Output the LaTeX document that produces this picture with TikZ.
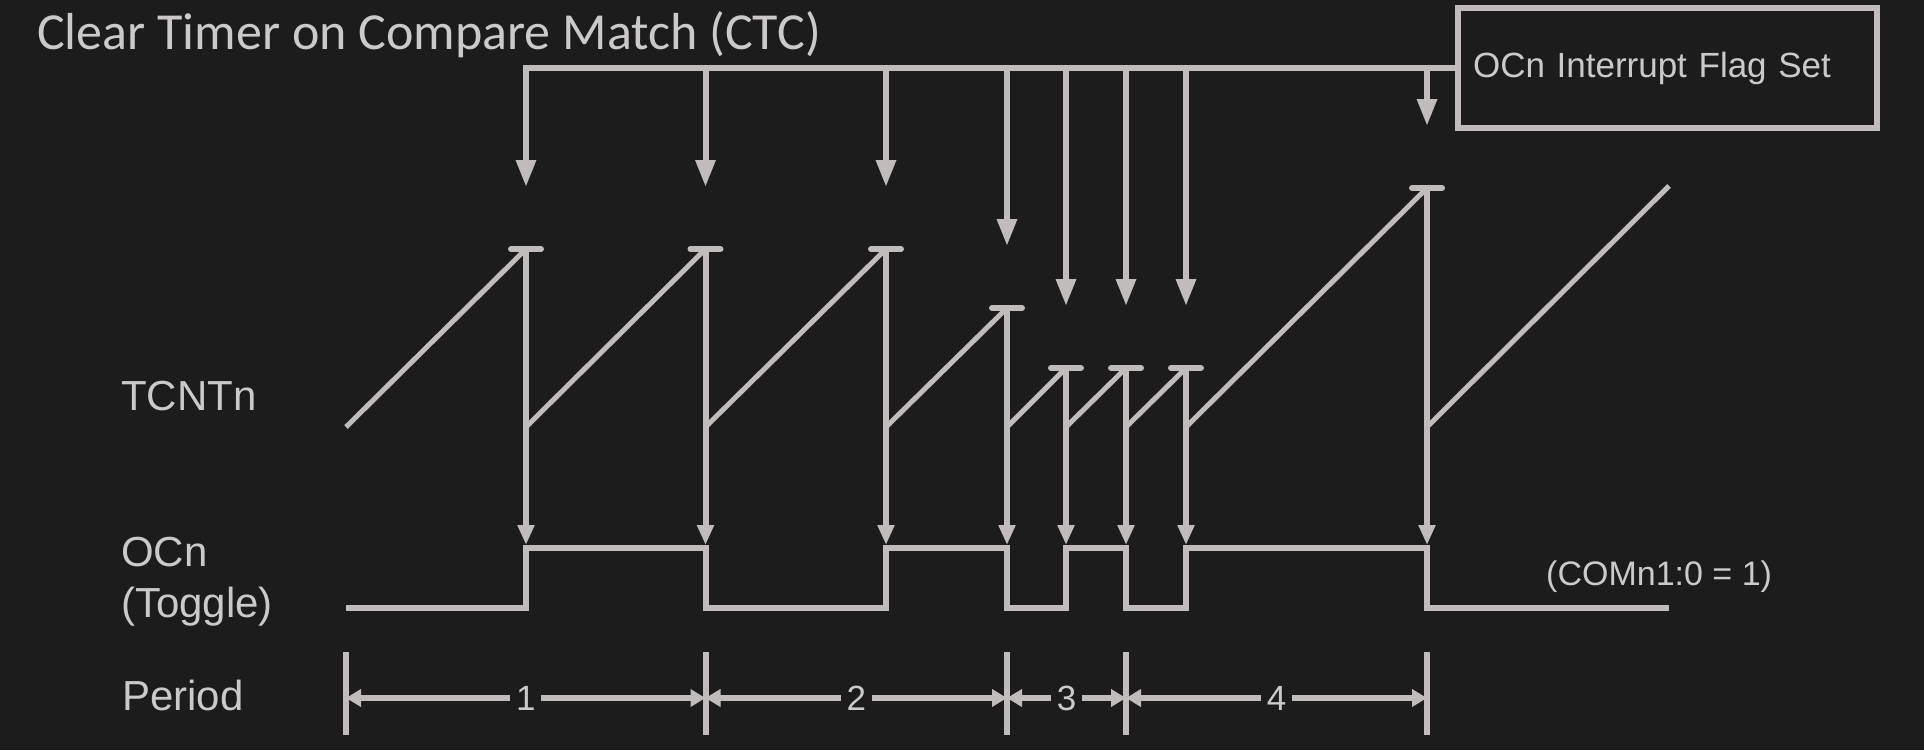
\documentclass[tikz,border=0pt]{standalone}
\usepackage{fontspec}
\setmainfont{Liberation Sans}
\newfontfamily\titlefont{Carlito}
\usetikzlibrary{arrows.meta}
\definecolor{bg}{RGB}{28,28,28}
\definecolor{wave}{RGB}{192,188,188}
\definecolor{txt}{RGB}{204,201,201}
\tikzset{
  sig/.style={draw=wave, line width=6pt},
  bigtip/.style={-{Triangle[length=27pt,width=19pt]}},
  smalltip/.style={-{Triangle[length=20pt,width=16pt]}},
  dimtip/.style={{Triangle[length=15pt,width=17pt]}-{Triangle[length=15pt,width=17pt]}},
  lbl/.style={text=txt, font=\fontsize{42}{51}\selectfont, inner sep=0pt, anchor=base west, align=left},
  num/.style={text=txt, font=\fontsize{35}{40}\selectfont, fill=bg, inner xsep=6pt, inner ysep=0pt},
}

\begin{document}
\begin{tikzpicture}[x=1pt, y=-1pt]
    %background
        \fill[bg] (0,0) rectangle (1924,750);
        \useasboundingbox (0,0) rectangle (1924,750);
    %title
        \node[text=txt, font=\titlefont\fontsize{52}{60}\selectfont, inner sep=0pt, anchor=base west] (title) at (37,49) {Clear Timer on Compare Match (CTC)};
    %flag box and bus
        \node[draw=wave, line width=6pt, text=txt, font=\fontsize{35}{40}\selectfont, minimum height=120pt, text width=389pt, inner xsep=15pt, align=left, anchor=west] (flag) at (1455,68) {OCn Interrupt Flag Set};
        \draw[sig, bigtip] (flag.west) -- (526,68) -- (526,187);
        \foreach \x/\c in {705.5/249, 886/249, 1007/308, 1066/368, 1126/368, 1186/368, 1427/188}
            \draw[sig, bigtip] (\x,68) -- (\x,\c-62);
    % TCNTn ramps
        \foreach \a/\b/\c in {346/526/249, 526/705.5/249, 705.5/886/249, 886/1007/308, 1007/1066/368, 1066/1126/368, 1126/1186/368, 1186/1427/188, 1427/1669/186}
            \draw[sig, line width=5pt] (\a,427) -- (\b,\c);
    % compare match: top caps and drops to OCn
        \foreach \x/\c in {526/249, 705.5/249, 886/249, 1007/308, 1066/368, 1126/368, 1186/368, 1427/188}{
            \draw[sig, line cap=round] (\x-15,\c) -- (\x+15,\c);
            \draw[sig, smalltip] (\x,\c) -- (\x,545);
        }
    % OCn toggle
        \draw[sig] (346,608) -| (526,548) -| (705.5,608) -| (886,548) -| (1007,608) -| (1066,548) -| (1126,608) -| (1186,548) -| (1427,608) -- (1669,608);
    % period
        \foreach \x [count=\i] in {346, 705.5, 1007, 1126, 1427}{
            \draw[sig] (\x,652) -- (\x,735);
            \coordinate (t\i) at (\x,698);
        }
        \draw[sig, dimtip] (t1) -- node[num] (p1) {1} (t2);
        \draw[sig, dimtip] (t2) -- node[num] (p2) {2} (t3);
        \draw[sig, dimtip] (t3) -- node[num] (p3) {3} (t4);
        \draw[sig, dimtip] (t4) -- node[num] (p4) {4} (t5);
    %nodes
        \node[lbl] (tcnt) at (121,410) {TCNTn};
        \node[lbl] (ocn) at (121,617) {OCn\\(Toggle)};
        \node[lbl] (period) at (122,710) {Period};
        \node[text=txt, font=\fontsize{34}{40}\selectfont, inner sep=0pt, anchor=west] (com) at (1546,577) {(COMn1:0 = 1)};
\end{tikzpicture}
\end{document}
